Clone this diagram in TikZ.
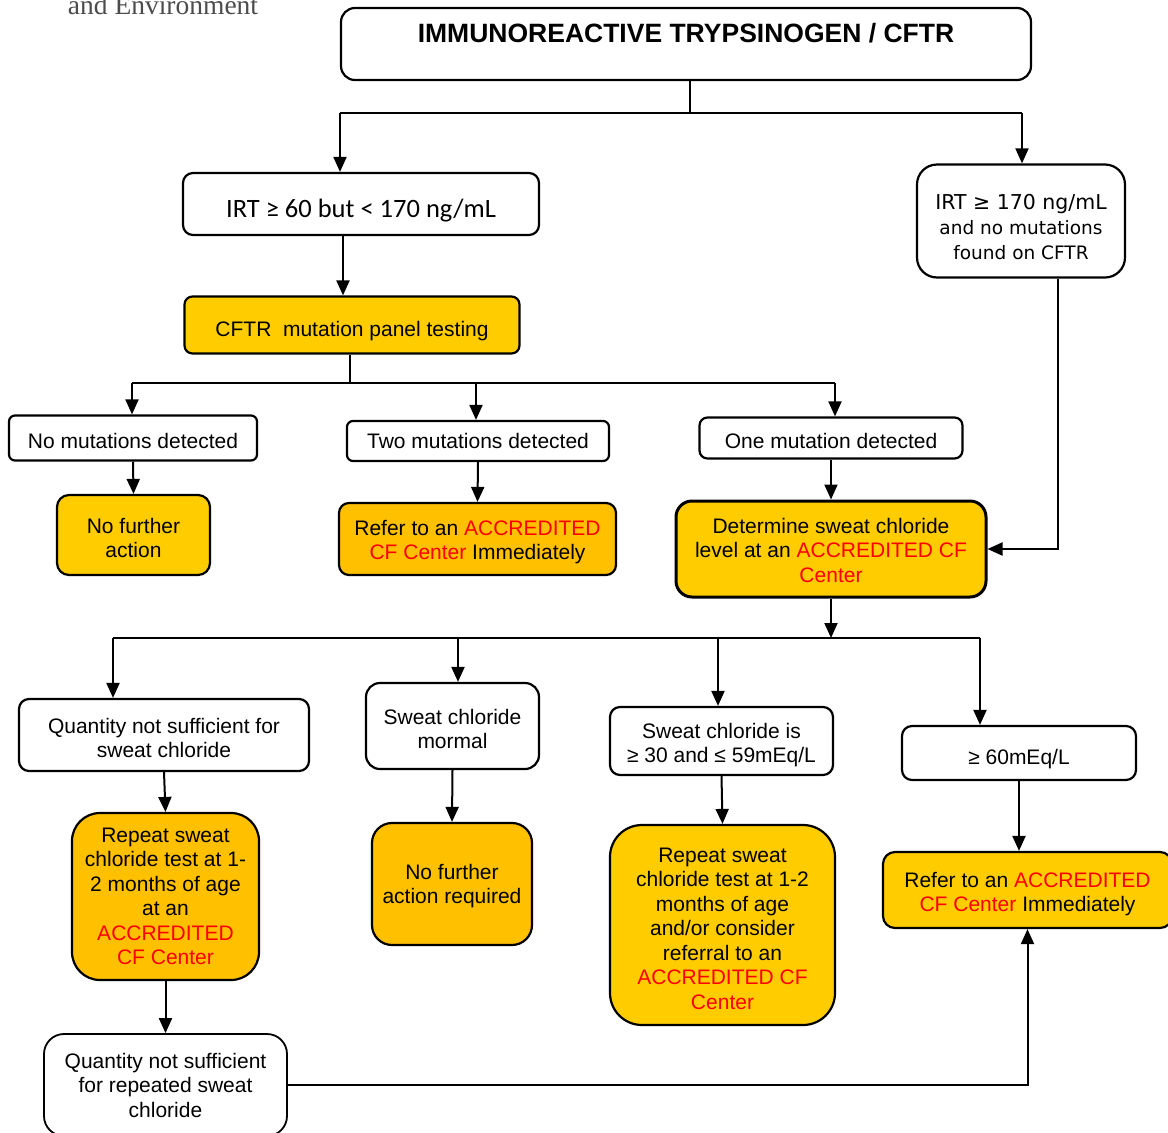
\documentclass[tikz,border=0pt]{standalone}
\usepackage{fontspec}
\setmainfont{Liberation Sans}
\newfontfamily\calibri{Carlito}
\newfontfamily\verdana{DejaVu Sans}
\newfontfamily\timesf{Liberation Serif}
\usetikzlibrary{arrows.meta}
\definecolor{gold}{HTML}{FFCC00}
\definecolor{amber}{HTML}{FFC000}
\newcommand{\acc}[1]{\textcolor{red}{#1}}
\newcommand{\lift}[1]{\rule{0pt}{#1pt}}

\begin{document}
\begin{tikzpicture}[x=1pt,y=-1pt]
    \tikzstyle{every node}=[font=\fontsize{21}{24.5}\selectfont]
    \tikzstyle{box}=[draw,line width=2.2pt,rounded corners=10pt,inner sep=0pt,align=center]
    \tikzstyle{ybox}=[box,fill=gold]
    \tikzstyle{obox}=[box,fill=amber]
    \tikzstyle{arr}=[line width=2pt,-{Triangle[length=15pt,width=13pt]}]
    \tikzstyle{wire}=[line width=2pt]
    \useasboundingbox (0,0) rectangle (1168,1133);
    \clip (0,0) rectangle (1168,1133);

    \node[inner sep=0pt,anchor=base,text=black!70,font=\timesf\fontsize{27.5}{30}\selectfont] (jrnl) at (163,14) {and Environment};

    % top
    \node[box,rounded corners=14pt,minimum width=690pt,text height=34.5pt,text depth=37.5pt,font=\bfseries\fontsize{26.5}{30}\selectfont] (title) at (686,44) {IMMUNOREACTIVE TRYPSINOGEN / CFTR};
    \node[box,minimum width=356pt,minimum height=62pt,text height=26pt,text depth=0pt,font=\calibri\fontsize{26.5}{30}\selectfont] (irta) at (361,204) {IRT ≥ 60 but < 170 ng/mL};
    \node[box,rounded corners=20pt,minimum width=208pt,minimum height=113pt,font=\verdana\fontsize{18.5}{25}\selectfont] (irtb) at (1021,221) {\lift{28}{\fontsize{20.5}{25}\selectfont IRT ≥ 170 ng/mL}\\and no mutations\\found on CFTR};
    \node[ybox,rounded corners=8pt,minimum width=335pt,minimum height=57pt,text height=23pt,text depth=0pt] (panel) at (352,325) {CFTR\ \ mutation panel testing};

    % mutation results
    \node[box,rounded corners=6pt,minimum width=248pt,minimum height=45pt,text height=20pt,text depth=0pt] (nomut) at (133,438) {No mutations detected};
    \node[box,rounded corners=6pt,minimum width=262pt,minimum height=40pt] (twomut) at (478,441) {Two mutations detected};
    \node[box,rounded corners=8pt,minimum width=263pt,minimum height=41pt,text height=20pt,text depth=0pt] (onemut) at (831,438) {One mutation detected};
    \node[ybox,rounded corners=12pt,minimum width=153pt,minimum height=80pt] (nofa) at (133.5,535) {\lift{21.3}No further\\action};
    \node[obox,minimum width=277pt,minimum height=72pt] (refa) at (477.5,539) {\lift{21.3}Refer to an \acc{ACCREDITED}\\\acc{CF Center} Immediately};
    \node[ybox,line width=3pt,rounded corners=16pt,minimum width=310pt,minimum height=96pt] (det) at (831,549) {\lift{17.3}Determine sweat chloride\\level at an \acc{ACCREDITED CF}\\\acc{Center}};

    % sweat chloride results
    \node[box,minimum width=290pt,minimum height=72pt] (qns) at (164,735) {\lift{21.3}Quantity not sufficient for\\sweat chloride};
    \node[box,rounded corners=14pt,minimum width=173pt,minimum height=86pt] (normal) at (452.5,726) {\lift{21.3}Sweat chloride\\mormal};
    \node[box,minimum width=223pt,minimum height=68pt] (sweatis) at (721.5,741) {\lift{23.3}Sweat chloride is\\≥ 30 and ≤ 59mEq/L};
    \node[box,minimum width=234pt,minimum height=54pt,text height=22pt,text depth=0pt] (high) at (1019,753) {≥ 60mEq/L};
    \node[obox,rounded corners=28pt,minimum width=187pt,minimum height=167pt] (repa) at (165.5,896.5) {Repeat sweat\\chloride test at 1-\\2 months of age\\at an\\\acc{ACCREDITED}\\\acc{CF Center}};
    \node[obox,rounded corners=20pt,minimum width=160pt,minimum height=122pt] (nofr) at (452,884) {\lift{19.3}No further\\action required};
    \node[ybox,rounded corners=32pt,minimum width=225pt,minimum height=200pt] (repb) at (722.5,925) {\lift{21.3}Repeat sweat\\chloride test at 1-2\\months of age\\and/or consider\\referral to an\\\acc{ACCREDITED CF}\\\acc{Center}};
    \node[ybox,rounded corners=12pt,minimum width=289pt,minimum height=76pt] (refb) at (1027.5,890) {\lift{23.3}Refer to an \acc{ACCREDITED}\\\acc{CF Center} Immediately};
    \node[box,line width=1.8pt,rounded corners=20pt,minimum width=243pt,minimum height=102pt] (qns2) at (165.5,1085) {Quantity not sufficient\\for repeated sweat\\chloride};

    % junctions
    \coordinate (ja) at (340,113);
    \coordinate (jb) at (1022,113);
    \coordinate (jc) at (132,383);
    \coordinate (ji) at (476,383);
    \coordinate (jd) at (835,383);
    \coordinate (je) at (113,638);
    \coordinate (jg) at (458,638);
    \coordinate (jh) at (718,638);
    \coordinate (jf) at (980,638);

    \draw[wire] ([xshift=4pt]title.south) -- ([xshift=4pt]title.south |- ja);
    \draw[wire] (ja) -- (jb);
    \draw[arr] (ja) -- (ja |- irta.north);
    \draw[arr] (jb) -- (jb |- irtb.north);
    \draw[arr] ([xshift=-18pt]irta.south) -- ([xshift=-9pt]panel.north);

    \draw[wire] ([xshift=-2pt]panel.south) -- ([xshift=-2pt]panel.south |- jc);
    \draw[wire] (jc) -- (jd);
    \draw[arr] (jc) -- (jc |- nomut.north);
    \draw[arr] (ji) -- (ji |- twomut.north);
    \draw[arr] (jd) -- (jd |- onemut.north);
    \draw[arr] (nomut.south) -- (nofa.north);
    \draw[arr] (twomut.south) -- (refa.north);
    \draw[arr] (onemut.south) -- (det.north);
    \draw[arr] ([xshift=37pt]irtb.south) |- (det.east);

    \draw[arr] (det.south) -- (det.south |- je);
    \draw[wire] (je) -- (jf);
    \draw[arr] (je) -- (je |- qns.north);
    \draw[arr] (jg) -- (jg |- normal.north);
    \draw[arr] (jh) -- (jh |- sweatis.north);
    \draw[arr] (jf) -- (jf |- high.north);

    \draw[arr] (qns.south) -- (repa.north);
    \draw[arr] (normal.south) -- (nofr.north);
    \draw[arr] (sweatis.south) -- (repb.north);
    \draw[arr] (high.south) -- (high.south |- refb.north);
    \draw[arr] (repa.south) -- (qns2.north);
    \draw[arr] (qns2.east) -| (refb.south);
\end{tikzpicture}
\end{document}
